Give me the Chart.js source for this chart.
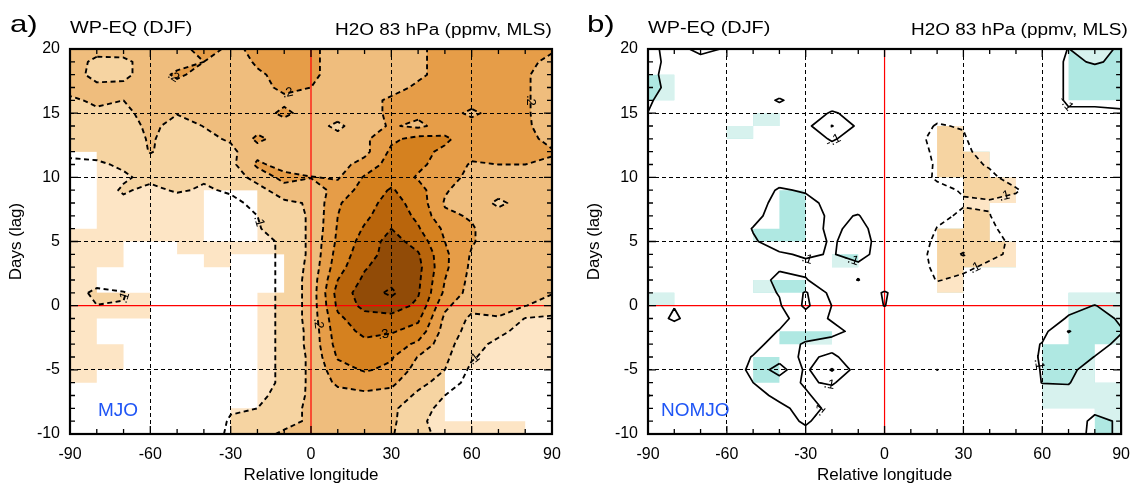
<!DOCTYPE html>
<html><head><meta charset="utf-8">
<script src="https://cdn.jsdelivr.net/npm/chart.js@4.4.1/dist/chart.umd.min.js"></script>
<style>
html,body{margin:0;padding:0;background:#fff;}
body{width:1141px;height:484px;position:relative;overflow:hidden;font-family:"Liberation Sans",Arial,sans-serif;}
.cv{position:absolute;top:0;}
.txt{position:absolute;white-space:nowrap;color:#000;transform-origin:0 0;line-height:1;}
</style></head><body>
<div class="cv" style="left:0;width:580px;height:484px"><canvas id="ca" width="580" height="484"></canvas></div>
<div class="cv" style="left:578px;width:563px;height:484px"><canvas id="cb" width="563" height="484"></canvas></div>
<div class="txt" style="left:10px;top:12px;font-size:24px;transform:scaleX(1.3)">a)</div>
<div class="txt" style="left:70px;top:20px;font-size:16px;transform:scaleX(1.24)">WP-EQ (DJF)</div>
<div class="txt" style="left:335px;top:21.5px;font-size:16px;transform:scaleX(1.185)">H2O 83 hPa (ppmv, MLS)</div>
<div class="txt" style="left:98px;top:400px;font-size:19px;color:#1f55f5">MJO</div>
<div class="txt" style="left:587px;top:12px;font-size:24px;transform:scaleX(1.3)">b)</div>
<div class="txt" style="left:648px;top:20px;font-size:16px;transform:scaleX(1.24)">WP-EQ (DJF)</div>
<div class="txt" style="left:911px;top:21.5px;font-size:16px;transform:scaleX(1.185)">H2O 83 hPa (ppmv, MLS)</div>
<div class="txt" style="left:661px;top:400px;font-size:19px;color:#1f55f5">NOMJO</div>
<script>
// ---------------- data ----------------
const lonTicks = [-90, -60, -30, 0, 30, 60, 90];
const dayTicks = [-10, -5, 0, 5, 10, 15, 20];
const gridLon = [-90,-80,-70,-60,-50,-40,-30,-20,-10,0,10,20,30,40,50,60,70,80,90];
const gridDays = [20,19,18,17,16,15,14,13,12,11,10,9,8,7,6,5,4,3,2,1,0,-1,-2,-3,-4,-5,-6,-7,-8,-9,-10];

// H2O anomaly, MJO composite (hundredths of ppmv), rows = gridDays, columns = gridLon
const mjoH2O = [
"17 16.5 17 17 18 22 19 21 22 21 18 18 18 19.5 21 22 22 21 20.5",
"17 14 14 17 18 20 18 20.5 22 21 18 18 18.5 19.5 21 22 22 21 19",
"17 13.5 14 17 21 18 18 19.5 21 21 18 18 18.5 19.5 21 22 22 20.5 18",
"16 16 16 17 18 18 18 18.5 21 20 18 18 19 20.5 22 22 22 20.5 18",
"14.5 15.5 15 17 17 17 18 18 19 19 18 19 20.5 21 22 22 22 20.5 18",
"14 14.5 14 16.5 15.2 16 17 18 21 18 17 19 20.5 21 22 19 22 20.5 18",
"13 13 13 16 13.5 15.1 16 18 18 17 14 18 20.5 19 22 22 22 20.5 18.5",
"13 13.5 12.5 15.5 13 14 15.5 21 18 17 16.5 19 24 26.5 26 22 22 21 19",
"10.5 11 11.5 15.3 13 14 14 18 18 17 17 18.5 26 26.5 24 21.5 21.5 21 20.3",
"9.5 9.5 10.5 13 12 12 13.5 21 18 17 18 22 27 26 23 19.5 20 20 19.5",
"9 9 9.5 11 10 10.5 12 17 21.5 20.2 19.5 25.5 28 24.5 21.5 19 18 19 19",
"8 8 10.5 9 10.5 9.5 10.5 13 18 17 22 27 30.5 27 20.5 17.5 17 18 18.5",
"8 8 9 8 8 8 9 11 14 15.5 24.5 28 32 28 19.5 18 14 17 18",
"7.5 7.5 8 8 8 8 8.5 10 13 15.5 25 29 33 29 21 19.5 17 17 18",
"7 7 7 7 7 7.5 8 9.5 13 15.5 25.5 30.5 35 30.5 24 20.5 17 17 17",
"7 7 7 7 7 7 8 8 11 16 26 32 37 33 25 20.5 17 17 17",
"7 7 7 7 7 7 8 8 11 16 27 33 37 35.5 26 19.5 17 17 17",
"7 7 7 7 7 7 7.5 8 11 16.5 28 34.5 38 36.5 26 19 17 17 17",
"7 7.5 7 7 7 7 7 8 11 17 30 36 38.5 36 25 18.5 17 16.5 16",
"7 11.5 10.3 7 7 7 7 8 11 17 32 37.5 41 35.5 24 18 16.5 16 15.2",
"7 9.9 9.8 7 7 7 7 8 11 17 31 36.5 37.5 34 21 16.5 16 15.1 13.5",
"7 7 7 7 7 7 7 8 11 17 29 33 33.5 31 19 14 14.8 9.8 9",
"7 7 7 7 7 7 7 8 11 16.5 28 31 30.5 28 18 13 11 8.5 8",
"7 7 7 7 7 7 7 8 11 16.5 27 29 27.5 24 17 11.5 9 8 8",
"7 7 7 7 7 7 7 8 11 16 25.5 27 25.5 19.8 16 10.5 8 8 8",
"7 7 7 7 7 7 7 8 11 16 23 25.5 24 18 15 9 8 8 8",
"7 7 7 7 7 7 7 8 11 16 21 22 21 16.5 13 8 8 8 8",
"7 7 7 7 7 7 7 9 11.5 16 18 19 18.5 14 10 8 8 8 8",
"7 7 7 7 7 7 9.5 10 13 16 17 17.5 16 12 8.5 8 8 8 8",
"7 7 7 7 7 7 10.5 11 14 15.5 16 17 16 11 8 8 8 8 8",
"7 7 7 7 7 7 11 14 15.5 15 16 16 15.5 11 9 8 8 8 8"
];

// H2O anomaly, NOMJO composite (hundredths of ppmv)
const nomjoH2O = [
"-13 -6 -13 -9 -3 -3 -3 -3 -3 -3 -3 -3 -3 -3 -3 -6 -10.2 -5 -12",
"-12 -8 -6 -5 -3 -3 -3 -3 -3 -3 -3 -3 -3 -3 -3 -6 -11 -9.5 -11",
"-12 -7 -3 -3 -3 -3 -3 -3 -3 -3 -3 -3 -3 -3 -3 -6 -11 -12 -13",
"-12 -8 -3 -3 -3 -5 -3 -3 -3 -3 -3 -3 -3 -3 -3 -6 -11 -15 -13",
"-11 -6 -3 -3 -5 -11 -5 -5 -3 -3 -3 -3 -3 -3 -3 -6 -11 -12 -12",
"-9.9 -5 -3 -3 -3 -5 -5 -11 -7 -3 -3 6 -3 -3 -3 -4 -9 -8 -9",
"-7 -3 -3 -3 -3 -3 -7 -20.5 -8 -3 4 11 9 -3 -3 -3 -3 -3 -3",
"-3 -3 -3 -3 -3 -3 -5 -11 -6 -3 6 13 12 -3 -3 -3 -3 -3 -3",
"-3 -3 -3 -3 -3 -3 -3 -6 -3 -3 5 12 13 4 -3 -3 -3 -3 -3",
"-3 -3 -3 -3 -3 -3 -3 -3 -3 -3 5 11 13 9 -3 -3 -3 -3 -3",
"-3 -3 -3 -3 -3 -6 -3 -3 -3 -3 4 11.5 13 12 6 -3 -3 -3 -3",
"-3 -3 -3 -3 -5 -11 -9 -3 -3 -3 -3 7 11 13 11 4 -3 -3 -3",
"-3 -3 -3 -3 -6 -13 -13 -7 -6 -3 -3 -3 9 9 7 -3 -3 -3 -3",
"-3 -3 -3 -3 -7 -15 -15 -8 -10.5 -3 -3 7 12 10.5 -3 -3 -3 -3 -3",
"-3 -3 -3 -3 -10.5 -15 -14 -8 -13 -5 -3 10.5 13 12 5 -3 -3 -3 -3",
"-3 -3 -3 -3 -9 -14 -14 -9 -14 -6 4 12 14 13 8 -3 -3 -3 -3",
"-3 -3 -3 -3 -3 -9 -11 -9.5 -13 -6 5 13 21 12 8 -3 -3 -3 -3",
"-3 -3 -3 -3 -3 -9 -8 -3 -8 -3 5 12 12 8 5 -3 -3 -3 -3",
"-3 -3 -3 -3 -6 -12 -10.5 -5 -10.3 -3 3 10.5 8 4 -3 -3 -3 -3 -3",
"-3 -3 -3 -3 -6 -10.5 -21 -7 -3 -11 -3 6 5 -3 -3 -3 -3 -5 -3",
"-3 -9.5 -3 -3 -5 -9 -22 -9.8 -3 -10.3 -3 -3 -3 -3 -3 -3 -7 -10.3 -6",
"-3 -12 -3 -3 -3 -7 -15 -9 -3 -3 -3 -3 -3 -3 -3 -4 -11 -13 -9",
"-3 -3 -3 -3 -5 -10.5 -14 -13 -7 -3 -3 -3 -3 -3 -3 -7 -20.5 -14 -10.5",
"-3 -3 -3 -3 -7 -14 -9 -6 -3 -3 -3 -3 -3 -3 -5 -10.5 -15 -13 -8",
"-3 -3 -3 -5 -10.5 -15 -8 -12 -4 -3 -3 -3 -3 -3 -5 -11 -14 -9.8 -3",
"-3 -3 -3 -5 -12 -25 -8 -21 -5 -3 -3 10.3 -3 -3 -5 -10.5 -12 -6 -3",
"-3 -3 -3 -3 -10 -14 -9 -11 -4 -3 -3 -3 -3 -3 -5 -10.2 -10.5 -4 -3",
"-10.5 -3 -3 -3 -7 -12 -11 -6 -3 -3 -3 -3 -3 -3 -3 -6 -7 -3 -3",
"-3 -3 -3 -3 -3 -8 -13 -8 -3 -3 -3 -3 -3 -3 -3 -3 -3 -8 -3",
"-3 -3 -3 -3 -3 -7 -11 -6 -3 -3 -3 -3 -3 -3 -3 -3 -5 -12 -9",
"-3 -3 -3 -3 -3 -10.2 -8 -3 -3 -3 -3 -3 -3 -3 -3 -3 -6 -12 -9"
];

// significance masks: 1 = shaded cell, 0 = blank; rows = day cells 19..20 down to -10..-9, cols = 10-degree cells from -90
const mjoShown = [
"111111111111111111","111111111111111111","111111111111111111","111111111111111111",
"111111111111111111","111111111111111111","111111111111111111","111111111111111111",
"011111111111111111","011111111111111111","011111111111111111",
"011110011111111111","011110011111111111","011110011111111111",
"111110011111111111","110011111111111111","110001001111111111",
"100000001111111111","100000001111111111",
"111000011111111111","111000011111111111",
"100000011111111111","100000011111111111",
"110000011111111111","110000011111111111",
"100000011111110000","000000011111110000","000000011111110000",
"000000111111110000","000000111111111110"
];
const nomjoShown = [
"000000000000000011","000000000000000011","100000000000000011","100000000000000011",
"000000000000000000","000010000000000000","000100000001000000","000000000001000000",
"000000000001100000","000000000001100000","000000000000110000","000001000000110000",
"000001000000100000","000001000000100000","000011000001100000","000000000001110000",
"000000010001110000","000000000001000000","000011000001000000","100000000000000011",
"000000000000000011","000000000000000011","000001100000000011","000000000000000110",
"000010000000000110","000010000000000110","000000000000000111","000000000000000111",
"000000000000000001","000000000000000001"
];

const mjoFillLevels = [10, 15, 20, 25, 30, 35];
const mjoLineLevels = [10, 15, 20, 25, 30, 35, 40];
const nomjoFillLevels = [-10, 0, 10];
const nomjoLineLevels = [-20, -10, 10, 20];
const minorLonStep = 10, minorDayStep = 1;

// ---------------- styles ----------------
const mjoColors = ['#FDE5C5', '#F6D4A2', '#EFBD7D', '#E69D48', '#D5811F', '#B9650C', '#914B07'];
const nomjoColors = ['#AFE8E2', '#D7F2EE', '#FDE5C5', '#F6D4A2'];
const FONT = '"Liberation Sans", Arial, sans-serif';

// ---------------- helpers ----------------
function parseGrid(rows) { return rows.map(r => r.trim().split(/\s+/).map(Number)); }

function cellCorners(F, r, i) {
  return [
    {x: gridLon[i],   y: gridDays[r],   v: F[r][i]},
    {x: gridLon[i+1], y: gridDays[r],   v: F[r][i+1]},
    {x: gridLon[i+1], y: gridDays[r+1], v: F[r+1][i+1]},
    {x: gridLon[i],   y: gridDays[r+1], v: F[r+1][i]}
  ];
}
function clipAbove(poly, t) {
  const out = [];
  for (let k = 0; k < poly.length; k++) {
    const a = poly[k], b = poly[(k+1) % poly.length];
    const ain = a.v >= t, bin = b.v >= t;
    if (ain) out.push(a);
    if (ain !== bin) {
      const f = (t - a.v) / (b.v - a.v);
      out.push({x: a.x + f*(b.x-a.x), y: a.y + f*(b.y-a.y), v: t});
    }
  }
  return out;
}
function contourPolylines(F, t) {
  const segs = [];
  for (let r = 0; r < F.length - 1; r++) {
    for (let i = 0; i < F[0].length - 1; i++) {
      const c = cellCorners(F, r, i);
      const keys = ['h'+r+'_'+i, 'v'+r+'_'+(i+1), 'h'+(r+1)+'_'+i, 'v'+r+'_'+i];
      const cr = [];
      for (let e = 0; e < 4; e++) {
        const a = c[e], b = c[(e+1) % 4];
        const ain = a.v >= t, bin = b.v >= t;
        if (ain !== bin) {
          const f = (t - a.v) / (b.v - a.v);
          cr.push({key: keys[e], x: a.x + f*(b.x-a.x), y: a.y + f*(b.y-a.y), exit: ain});
        }
      }
      for (let k = 0; k < cr.length; k++) {
        if (!cr[k].exit) continue;
        for (let m = 1; m < cr.length; m++) {
          const q = cr[(k+m) % cr.length];
          if (!q.exit) { segs.push([cr[k], q]); break; }
        }
      }
    }
  }
  const byKey = new Map();
  segs.forEach((s, idx) => s.forEach(p => { if (!byKey.has(p.key)) byKey.set(p.key, []); byKey.get(p.key).push(idx); }));
  const used = new Array(segs.length).fill(false);
  const other = (idx, key) => segs[idx][0].key === key ? segs[idx][1] : segs[idx][0];
  const lines = [];
  for (let s0 = 0; s0 < segs.length; s0++) {
    if (used[s0]) continue;
    used[s0] = true;
    const line = [segs[s0][0], segs[s0][1]];
    let tail = line[line.length-1];
    for (;;) {
      const cand = (byKey.get(tail.key) || []).find(k => !used[k]);
      if (cand === undefined) break;
      used[cand] = true; const p = other(cand, tail.key); line.push(p); tail = p;
    }
    let head = line[0];
    for (;;) {
      const cand = (byKey.get(head.key) || []).find(k => !used[k]);
      if (cand === undefined) break;
      used[cand] = true; const p = other(cand, head.key); line.unshift(p); head = p;
    }
    lines.push(line.map(p => ({x: p.x, y: p.y})));
  }
  return lines;
}
function linesToData(lines) {
  const d = [];
  lines.forEach((l, k) => { if (k) d.push({x: l[0].x, y: null}); l.forEach(p => d.push(p)); });
  return d;
}

function fieldPlugin(F, shown, levels, colors) {
  return {
    id: 'field',
    beforeDraw(chart) {
      const {ctx, chartArea: a, scales: {x, y}} = chart;
      ctx.save();
      ctx.beginPath(); ctx.rect(a.left, a.top, a.width, a.height); ctx.clip();
      for (let k = 0; k < colors.length; k++) {
        ctx.beginPath();
        for (let r = 0; r < shown.length; r++) {
          for (let i = 0; i < shown[r].length; i++) {
            if (shown[r][i] !== '1') continue;
            let poly = cellCorners(F, r, i);
            if (k > 0) poly = clipAbove(poly, levels[k-1]);
            if (poly.length < 3) continue;
            poly.forEach((p, n) => {
              const px = x.getPixelForValue(p.x), py = y.getPixelForValue(p.y);
              if (n === 0) ctx.moveTo(px, py); else ctx.lineTo(px, py);
            });
            ctx.closePath();
          }
        }
        ctx.fillStyle = colors[k];
        ctx.fill('nonzero');
      }
      ctx.restore();
    }
  };
}

function labelPlugin(labels) {
  return {
    id: 'clabels',
    afterDatasetsDraw(chart) {
      const {ctx, chartArea: a, scales: {x, y}} = chart;
      ctx.save();
      ctx.beginPath(); ctx.rect(a.left, a.top, a.width, a.height); ctx.clip();
      ctx.font = '13px ' + FONT;
      ctx.fillStyle = '#000'; ctx.textAlign = 'center'; ctx.textBaseline = 'middle';
      labels.forEach(L => {
        L.lines.forEach(line => {
          const pts = line.map(p => [x.getPixelForValue(p.x), y.getPixelForValue(p.y)]);
          const cum = [0]; let len = 0;
          for (let k = 1; k < pts.length; k++) { len += Math.hypot(pts[k][0]-pts[k-1][0], pts[k][1]-pts[k-1][1]); cum.push(len); }
          if (len < L.minLen) return;
          const target = len * 0.5;
          let k = 1; while (k < pts.length - 1 && cum[k] < target) k++;
          const f = (target - cum[k-1]) / Math.max(1e-6, cum[k] - cum[k-1]);
          const px = pts[k-1][0] + f*(pts[k][0]-pts[k-1][0]);
          const py = pts[k-1][1] + f*(pts[k][1]-pts[k-1][1]);
          let ang = Math.atan2(pts[k][1]-pts[k-1][1], pts[k][0]-pts[k-1][0]);
          if (ang > Math.PI/2) ang -= Math.PI;
          if (ang < -Math.PI/2) ang += Math.PI;
          ctx.save(); ctx.translate(px, py); ctx.rotate(ang); ctx.fillText(L.text, 0, 0); ctx.restore();
        });
      });
      ctx.restore();
    }
  };
}

const framePlugin = {
  id: 'frame',
  afterDraw(chart) {
    const {ctx, chartArea: a, scales: {x, y}} = chart;
    ctx.save();
    ctx.strokeStyle = '#000'; ctx.lineWidth = 1.3;
    ctx.beginPath();
    for (let v = x.min; v <= x.max; v += minorLonStep) {
      const px = x.getPixelForValue(v);
      const L = lonTicks.includes(v) ? 8 : 5;
      ctx.moveTo(px, a.bottom); ctx.lineTo(px, a.bottom - L);
      ctx.moveTo(px, a.top); ctx.lineTo(px, a.top + L);
    }
    for (let v = y.min; v <= y.max; v += minorDayStep) {
      const py = y.getPixelForValue(v);
      const L = dayTicks.includes(v) ? 8 : 5;
      ctx.moveTo(a.left, py); ctx.lineTo(a.left + L, py);
      ctx.moveTo(a.right, py); ctx.lineTo(a.right - L, py);
    }
    ctx.stroke();
    ctx.lineWidth = 2.2;
    ctx.strokeRect(a.left, a.top, a.right - a.left, a.bottom - a.top);
    ctx.restore();
  }
};

function makeChart(id, rows, shown, fillLevels, lineLevels, colors, styleFor, labelDefs, padRight) {
  const F = parseGrid(rows);
  const datasets = [];
  const labelSets = [];
  lineLevels.forEach(t => {
    const lines = contourPolylines(F, t);
    const st = styleFor(t);
    datasets.push({
      data: linesToData(lines), borderColor: '#000', borderWidth: st.width,
      borderDash: st.dash, pointRadius: 0, fill: false, tension: 0, spanGaps: false,
      borderCapStyle: 'butt', borderJoinStyle: 'round'
    });
    if (labelDefs[t]) labelSets.push({lines, text: labelDefs[t], minLen: 85});
  });
  datasets.push({data: [{x: 0, y: dayTicks[0]}, {x: 0, y: dayTicks[dayTicks.length-1]}], borderColor: '#ff0000', borderWidth: 1.2, pointRadius: 0, fill: false});
  datasets.push({data: [{x: lonTicks[0], y: 0}, {x: lonTicks[lonTicks.length-1], y: 0}], borderColor: '#ff0000', borderWidth: 1.2, pointRadius: 0, fill: false});

  const gridColor = c => (c.tick && c.tick.value === 0) ? 'rgba(0,0,0,0)' : '#000';
  return new Chart(document.getElementById(id), {
    type: 'line',
    data: {datasets},
    options: {
      responsive: false, animation: false, devicePixelRatio: 1, events: [],
      layout: {padding: {left: 8, right: padRight, top: 49, bottom: 0}},
      plugins: {legend: {display: false}, tooltip: {enabled: false}},
      scales: {
        x: {
          type: 'linear', min: lonTicks[0], max: lonTicks[lonTicks.length-1],
          afterBuildTicks: s => { s.ticks = lonTicks.map(v => ({value: v})); },
          ticks: {font: {size: 16, family: FONT}, color: '#000', padding: 11, maxRotation: 0, autoSkip: false, callback: v => String(v)},
          grid: {color: gridColor, lineWidth: 1, drawTicks: false},
          border: {display: false, dash: [4, 3]},
          title: {display: true, text: 'Relative longitude', color: '#000', font: {size: 17, family: FONT, lineHeight: 1}, padding: {top: 0, bottom: 0}},
          afterFit: s => { s.height = 50; }
        },
        y: {
          type: 'linear', min: dayTicks[0], max: dayTicks[dayTicks.length-1],
          afterBuildTicks: s => { s.ticks = dayTicks.map(v => ({value: v})); },
          ticks: {font: {size: 16, family: FONT}, color: '#000', padding: 10, autoSkip: false, callback: v => String(v)},
          grid: {color: gridColor, lineWidth: 1, drawTicks: false},
          border: {display: false, dash: [4, 3]},
          title: {display: true, text: 'Days (lag)', color: '#000', font: {size: 17, family: FONT, lineHeight: 1}, padding: {top: 0, bottom: 0}},
          afterFit: s => { s.width = 62; }
        }
      }
    },
    plugins: [fieldPlugin(F, shown, fillLevels, colors), labelPlugin(labelSets), framePlugin]
  });
}

makeChart('ca', mjoH2O, mjoShown, mjoFillLevels, mjoLineLevels, mjoColors,
  t => ({width: 1.9, dash: [5, 3.5]}),
  {10: '.1', 20: '.2', 30: '.3'}, 28);
makeChart('cb', nomjoH2O, nomjoShown, nomjoFillLevels, nomjoLineLevels, nomjoColors,
  t => t < 0 ? {width: 1.7, dash: []} : {width: 1.7, dash: [5, 3.5]},
  {'-10': '-.1', 10: '.1'}, 12);
</script>
</body></html>
